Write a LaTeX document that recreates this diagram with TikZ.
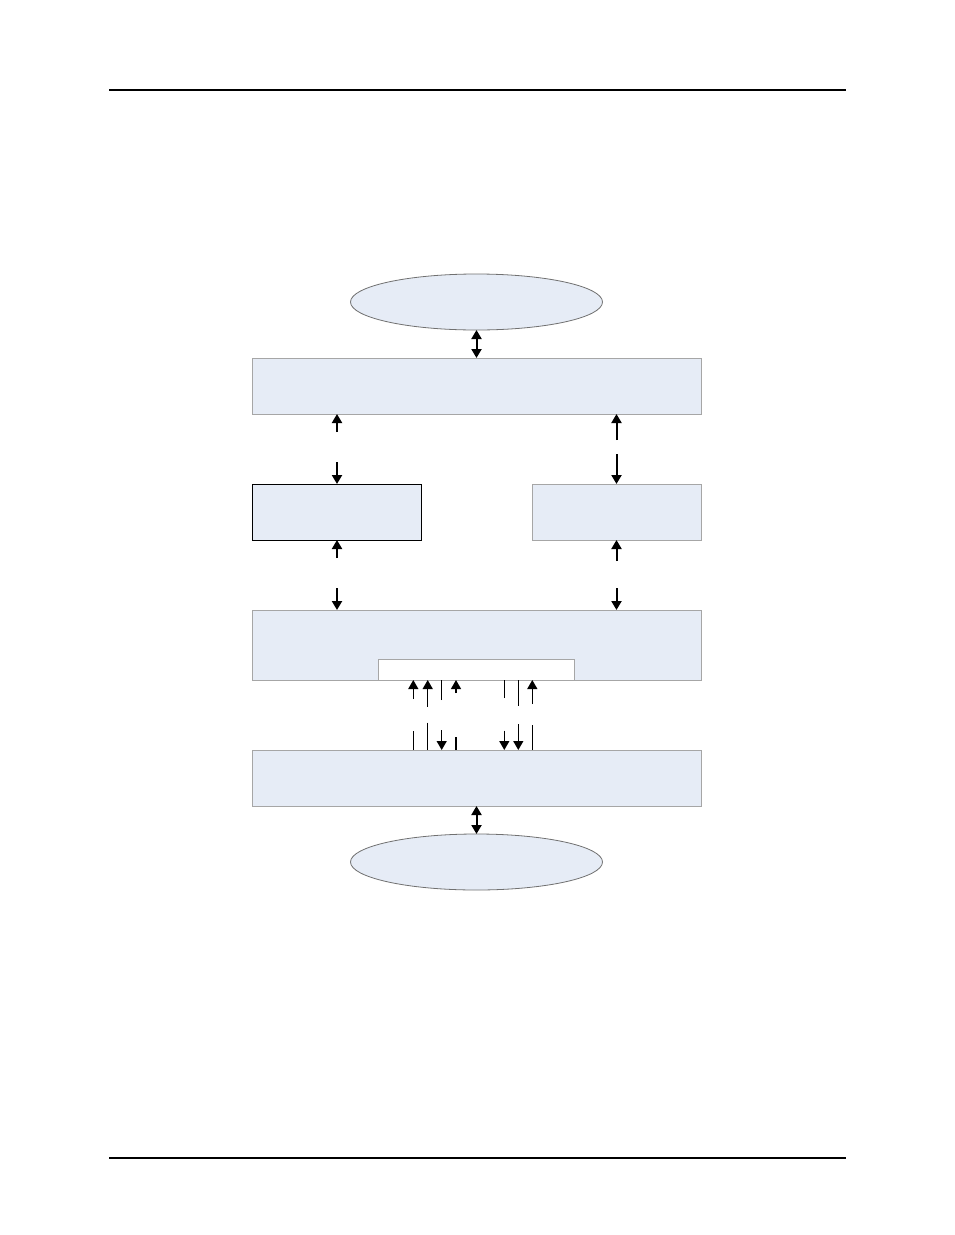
\documentclass[tikz,border=0pt]{standalone}
\usetikzlibrary{arrows.meta,shapes.geometric}
\definecolor{boxfill}{HTML}{E6ECF6}
\definecolor{boxline}{HTML}{A6A6A6}
\definecolor{ellline}{HTML}{707070}
\begin{document}
\begin{tikzpicture}[x=1pt,y=-1pt,
  blk/.style={draw=boxline,fill=boxfill,line width=1pt,rectangle,inner sep=0pt,outer sep=0pt},
  blkdark/.style={blk,draw=black},
  ell/.style={draw=ellline,fill=boxfill,line width=0.8pt,ellipse,inner sep=0pt,outer sep=0pt,minimum width=252pt,minimum height=56pt},
  inbox/.style={draw=boxline,fill=white,line width=1pt,rectangle,inner sep=0pt,outer sep=0pt},
  arr/.style={line width=2pt,-{Triangle[length=9pt,width=10pt]}},
  darr/.style={line width=2pt,{Triangle[length=9pt,width=10pt]}-{Triangle[length=9pt,width=10pt]}},
  sarr/.style={line width=1.3pt,-{Triangle[length=9pt,width=10pt]}},
  sline/.style={line width=1.3pt},
  rule/.style={line width=1.2pt}]
\useasboundingbox (0,0) rectangle (954,1235);
% header and footer rules
\coordinate (hl) at (109,90); \coordinate (hr) at (846,90);
\coordinate (fl) at (109,1158); \coordinate (fr) at (846,1158);
\draw[rule] (hl) -- (hr);
\draw[rule] (fl) -- (fr);
% nodes
\node[ell] (etop) at (476.5,302) {};
\node[blk,minimum width=449pt,minimum height=56pt] (b1) at (476.5,386) {};
\node[blkdark,minimum width=169pt,minimum height=56pt] (b2) at (337,512) {};
\node[blk,minimum width=169pt,minimum height=56pt] (b3) at (616.5,512) {};
\node[blk,minimum width=449pt,minimum height=70pt] (b4) at (476.5,645) {};
\node[inbox,minimum width=196pt,minimum height=21pt,anchor=south] (b4in) at (476.3,680) {};
\node[blk,minimum width=449pt,minimum height=56pt] (b5) at (476.5,778) {};
\node[ell] (ebot) at (476.5,862) {};
% top and bottom double arrows
\draw[darr] (etop.south) -- (b1.north);
\draw[darr] (b5.south) -- (ebot.north);
% left column
\coordinate (l1) at (337,432); \coordinate (l2) at (337,462);
\coordinate (l3) at (337,558); \coordinate (l4) at (337,588);
\draw[arr] (l1) -- (b1.south -| l1);
\draw[arr] (l2) -- (b2.north);
\draw[arr] (l3) -- (b2.south);
\draw[arr] (l4) -- (b4.north -| l4);
% right column
\coordinate (r1) at (616.5,440); \coordinate (r2) at (616.5,454);
\coordinate (r3) at (616.5,561); \coordinate (r4) at (616.5,588);
\draw[arr] (r1) -- (b1.south -| r1);
\draw[arr] (r2) -- (b3.north);
\draw[arr] (r3) -- (b3.south);
\draw[arr] (r4) -- (b4.north -| r4);
% small connectors between b4 and b5 (upper pieces)
\coordinate (u1) at (413.3,699);
\coordinate (u2) at (427.7,706.7);
\coordinate (u3) at (441.7,700);
\coordinate (u4) at (456,693);
\coordinate (u5) at (504.3,698);
\coordinate (u6) at (518.3,705.7);
\coordinate (u7) at (532.3,704);
\draw[sarr] (u1) -- (b4.south -| u1);
\draw[sarr] (u2) -- (b4.south -| u2);
\draw[sline] (u3) -- (b4.south -| u3);
\draw[sarr] (u4) -- (b4.south -| u4);
\draw[sline] (u5) -- (b4.south -| u5);
\draw[sline] (u6) -- (b4.south -| u6);
\draw[sarr] (u7) -- (b4.south -| u7);
% lower pieces
\coordinate (d1) at (413.3,731);
\coordinate (d2) at (427.7,722.7);
\coordinate (d3) at (441.7,730);
\coordinate (d4) at (456,737);
\coordinate (d5) at (504.3,730.7);
\coordinate (d6) at (518.3,724);
\coordinate (d7) at (532.3,725);
\draw[sline] (d1) -- (b5.north -| d1);
\draw[sline] (d2) -- (b5.north -| d2);
\draw[sarr] (d3) -- (b5.north -| d3);
\draw[sline] (d4) -- (b5.north -| d4);
\draw[sarr] (d5) -- (b5.north -| d5);
\draw[sarr] (d6) -- (b5.north -| d6);
\draw[sline] (d7) -- (b5.north -| d7);
\end{tikzpicture}
\end{document}
